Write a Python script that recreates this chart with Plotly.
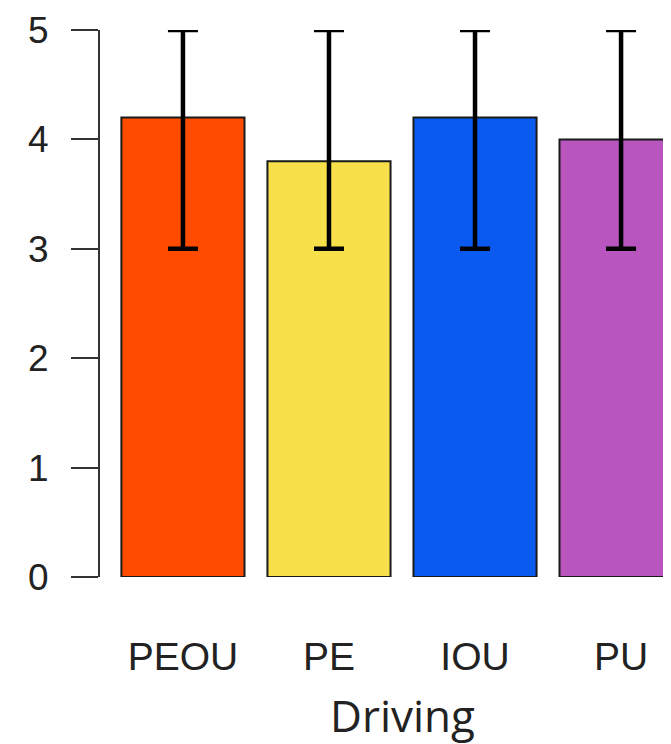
import plotly.graph_objects as go

# data
categories = ['PEOU', 'PE', 'IOU', 'PU']
means = [4.2, 3.8, 4.2, 4.0]
upper = [5, 5, 5, 5]
lower = [3, 3, 3, 3]
colors = ['#FF4B00', '#F8E04A', '#0A5AF0', '#B955BE']
y_ticks = [0, 1, 2, 3, 4, 5]

x_pos = list(range(len(categories)))
err_up = [u - m for u, m in zip(upper, means)]
err_down = [m - l for m, l in zip(means, lower)]

fig = go.Figure()
fig.add_trace(go.Bar(
    x=x_pos, y=means, width=0.843,
    marker=dict(color=colors, line=dict(color='#1a1a1a', width=2)),
    error_y=dict(type='data', symmetric=False, array=err_up, arrayminus=err_down,
                 color='#000000', thickness=4.5, width=15),
    cliponaxis=False, showlegend=False,
))

# x axis title placed under the category labels
fig.add_annotation(x=1.5, xref='x', y=-0.195, yref='paper', yanchor='top',
                   text='Driving', showarrow=False, borderpad=0,
                   font=dict(family='Open Sans', size=44, color='#222222'))

# page body has an 8px margin, so the figure is a bit smaller than the window
fig.update_layout(
    width=663, height=736,
    margin=dict(l=92, r=0, t=22, b=167),
    paper_bgcolor='white', plot_bgcolor='white',
    font=dict(family='Liberation Sans', color='#222222'),
)
fig.update_xaxes(
    range=[-0.568, 3.342], tickvals=x_pos, ticktext=categories,
    tickfont=dict(size=39), showline=False, showgrid=False, zeroline=False,
    ticks='', ticklabelstandoff=53,
)
fig.update_yaxes(
    range=[0, 5], tickvals=y_ticks, tickfont=dict(size=37),
    showline=True, linecolor='#333333', linewidth=2,
    ticks='outside', ticklen=27, tickwidth=2, tickcolor='#333333',
    showgrid=False, zeroline=False, ticklabelstandoff=15,
)

fig.write_html('out.html')
